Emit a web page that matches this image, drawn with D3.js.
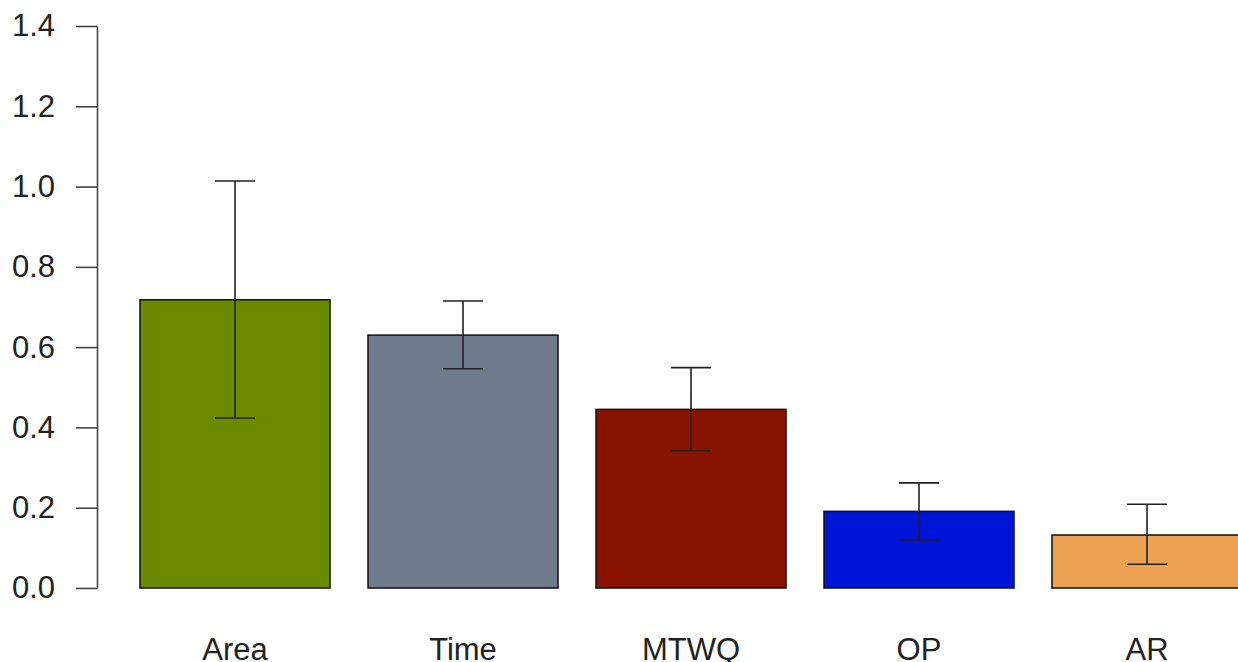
<!DOCTYPE html>
<html>
<head>
<meta charset="utf-8">
<script src="https://cdn.jsdelivr.net/npm/d3@7"></script>
<style>
  body { margin: 0; background: #fff; }
  svg { display: block; }
</style>
</head>
<body>
<div id="chart"></div>
<script>
var categories = ["Area", "Time", "MTWQ", "OP", "AR"];
var means = [0.718, 0.630, 0.445, 0.191, 0.132];
var upper = [1.014, 0.715, 0.549, 0.262, 0.2085];
var lower = [0.4235, 0.546, 0.342, 0.120, 0.059];
var colors = ["#6a8a00", "#6f7a8b", "#881400", "#0015d8", "#eda253"];
var yTicks = [0, 0.2, 0.4, 0.6, 0.8, 1.0, 1.2, 1.4];

var width = 1238, height = 662;

var svg = d3.select("#chart")
  .append("svg")
    .attr("width", width)
    .attr("height", height);

var x = d3.scaleBand()
    .domain(categories)
    .range([140, 1242])
    .paddingInner(1 / 6)
    .paddingOuter(0);

var y = d3.scaleLinear()
    .domain([0, 1.4])
    .range([588, 26]);

var data = categories.map(function(c, i) {
  return {name: c, mean: means[i], hi: upper[i], lo: lower[i], color: colors[i]};
});

// bars
svg.append("g")
  .selectAll("rect")
  .data(data)
  .enter().append("rect")
    .attr("x", function(d) { return x(d.name); })
    .attr("y", function(d) { return y(d.mean); })
    .attr("width", x.bandwidth())
    .attr("height", function(d) { return y(0) - y(d.mean); })
    .attr("fill", function(d) { return d.color; })
    .attr("stroke", "#111")
    .attr("stroke-width", 1.5);

// error bars
var capHalf = 20;
var err = svg.append("g")
    .attr("stroke", "#222")
    .attr("stroke-width", 1.6)
  .selectAll("g")
  .data(data)
  .enter().append("g");

err.append("line")
    .attr("x1", function(d) { return x(d.name) + x.bandwidth() / 2; })
    .attr("x2", function(d) { return x(d.name) + x.bandwidth() / 2; })
    .attr("y1", function(d) { return y(d.lo); })
    .attr("y2", function(d) { return y(d.hi); });

err.append("line")
    .attr("x1", function(d) { return x(d.name) + x.bandwidth() / 2 - capHalf; })
    .attr("x2", function(d) { return x(d.name) + x.bandwidth() / 2 + capHalf; })
    .attr("y1", function(d) { return y(d.hi); })
    .attr("y2", function(d) { return y(d.hi); });

err.append("line")
    .attr("x1", function(d) { return x(d.name) + x.bandwidth() / 2 - capHalf; })
    .attr("x2", function(d) { return x(d.name) + x.bandwidth() / 2 + capHalf; })
    .attr("y1", function(d) { return y(d.lo); })
    .attr("y2", function(d) { return y(d.lo); });

// y axis
var yAxis = svg.append("g")
    .attr("transform", "translate(97,0)")
    .call(d3.axisLeft(y)
      .tickValues(yTicks)
      .tickFormat(d3.format(".1f"))
      .tickSize(21)
      .tickSizeOuter(0)
      .tickPadding(21));

yAxis.select(".domain")
    .attr("stroke", "#444")
    .attr("stroke-width", 1.6);
yAxis.selectAll(".tick line")
    .attr("stroke", "#444")
    .attr("stroke-width", 1.6);
yAxis.selectAll(".tick text")
    .attr("fill", "#222")
    .style("font-family", "'Liberation Sans', Arial, sans-serif")
    .style("font-size", "31px");

// category labels
svg.append("g")
  .selectAll("text")
  .data(data)
  .enter().append("text")
    .attr("x", function(d) { return x(d.name) + x.bandwidth() / 2; })
    .attr("y", 660)
    .attr("text-anchor", "middle")
    .attr("fill", "#222")
    .style("font-family", "'Liberation Sans', Arial, sans-serif")
    .style("font-size", "31px")
    .text(function(d) { return d.name; });
</script>
</body>
</html>
